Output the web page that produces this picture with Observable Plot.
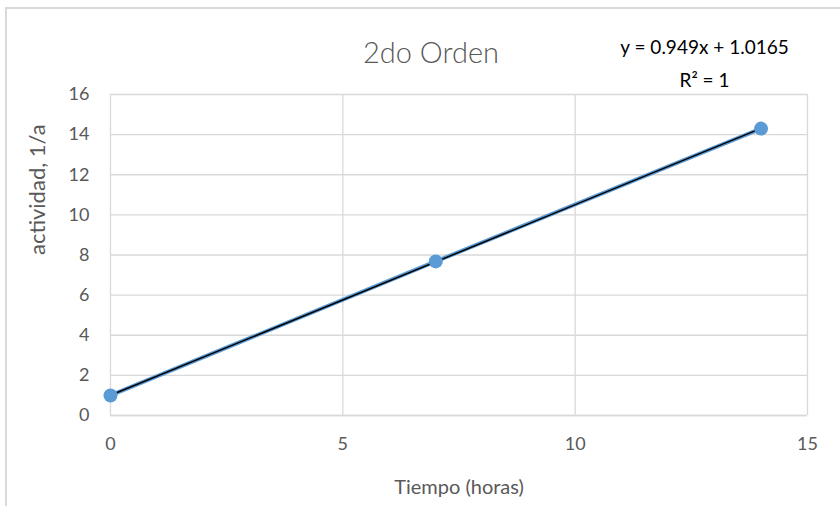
<!DOCTYPE html>
<html>
<head>
<meta charset="utf-8">
<script src="https://cdn.jsdelivr.net/npm/d3@7"></script>
<script src="https://cdn.jsdelivr.net/npm/@observablehq/plot@0.6"></script>
<style>
  body { margin: 0; background: #fff; }
  #wrap { position: relative; width: 840px; height: 506px; overflow: hidden; }
  #border { position: absolute; left: 5px; top: 7px; width: 900px; height: 600px; border: 2px solid #d9d9d9; box-sizing: border-box; }
  #chart { position: absolute; left: 0; top: 0; }
  #chart g[aria-label="x-axis tick label"] text, #chart g[aria-label="y-axis tick label"] text { font-size: 18px; }
</style>
</head>
<body>
<div id="wrap"><div id="border"></div><div id="chart"></div></div>
<script>
const tiempo = [0, 7, 14];
const actividad = [1.0, 7.68, 14.3];
const xTicks = [0, 5, 10, 15];
const yTicks = [0, 2, 4, 6, 8, 10, 12, 14, 16];
const title = "2do Orden";
const equation = "y = 0.949x + 1.0165";
const r2 = "R² = 1";
const xLabel = "Tiempo (horas)";
const yLabel = "actividad, 1/a";

const data = tiempo.map((t, i) => ({t, a: actividad[i]}));
const font = "Lato, 'Open Sans', sans-serif";
const grey = "#595959";

const plot = Plot.plot({
  width: 840,
  height: 506,
  marginLeft: 110,
  marginRight: 33,
  marginTop: 94,
  marginBottom: 91,
  style: {fontFamily: font, background: "transparent", overflow: "visible"},
  x: {domain: [0, 15], ticks: xTicks, label: null},
  y: {domain: [0, 16], ticks: yTicks, label: null},
  marks: [
    Plot.gridX(xTicks, {stroke: "#d9d9d9", strokeOpacity: 1, strokeWidth: 1.3}),
    Plot.gridY(yTicks, {stroke: "#d9d9d9", strokeOpacity: 1, strokeWidth: 1.3}),
    Plot.ruleY([0], {stroke: "#d9d9d9", strokeWidth: 1.5}),
    Plot.axisX(xTicks, {tickSize: 0, tickPadding: 22, fontSize: 18, fill: grey, tickFormat: d => d}),
    Plot.axisY(yTicks, {tickSize: 0, tickPadding: 21, fontSize: 18, fill: grey, tickFormat: d => d}),
    Plot.line(data, {x: "t", y: "a", stroke: "#5B9BD5", strokeWidth: 4}),
    Plot.linearRegressionY(data, {x: "t", y: "a", stroke: "#000", strokeWidth: 1.5, ci: 0}),
    Plot.dot(data, {x: "t", y: "a", r: 7, fill: "#5B9BD5", stroke: "none"}),
    Plot.text([title], {frameAnchor: "top", dx: -28, dy: -41, fontSize: 29, fontWeight: 300, fill: grey, lineAnchor: "middle"}),
    Plot.text([equation], {frameAnchor: "top-right", textAnchor: "middle", dx: -103, dy: -47, fontSize: 19, fill: "#000", lineAnchor: "middle"}),
    Plot.text([r2], {frameAnchor: "top-right", textAnchor: "middle", dx: -103, dy: -14, fontSize: 19, fill: "#000", lineAnchor: "middle"}),
    Plot.text([xLabel], {frameAnchor: "bottom", dy: 72, fontSize: 20, fill: grey, lineAnchor: "middle"}),
    Plot.text([yLabel], {frameAnchor: "left", dx: -73, dy: 0, rotate: -90, fontSize: 22, fill: grey, lineAnchor: "middle"})
  ]
});
document.getElementById("chart").appendChild(plot);
</script>
</body>
</html>
